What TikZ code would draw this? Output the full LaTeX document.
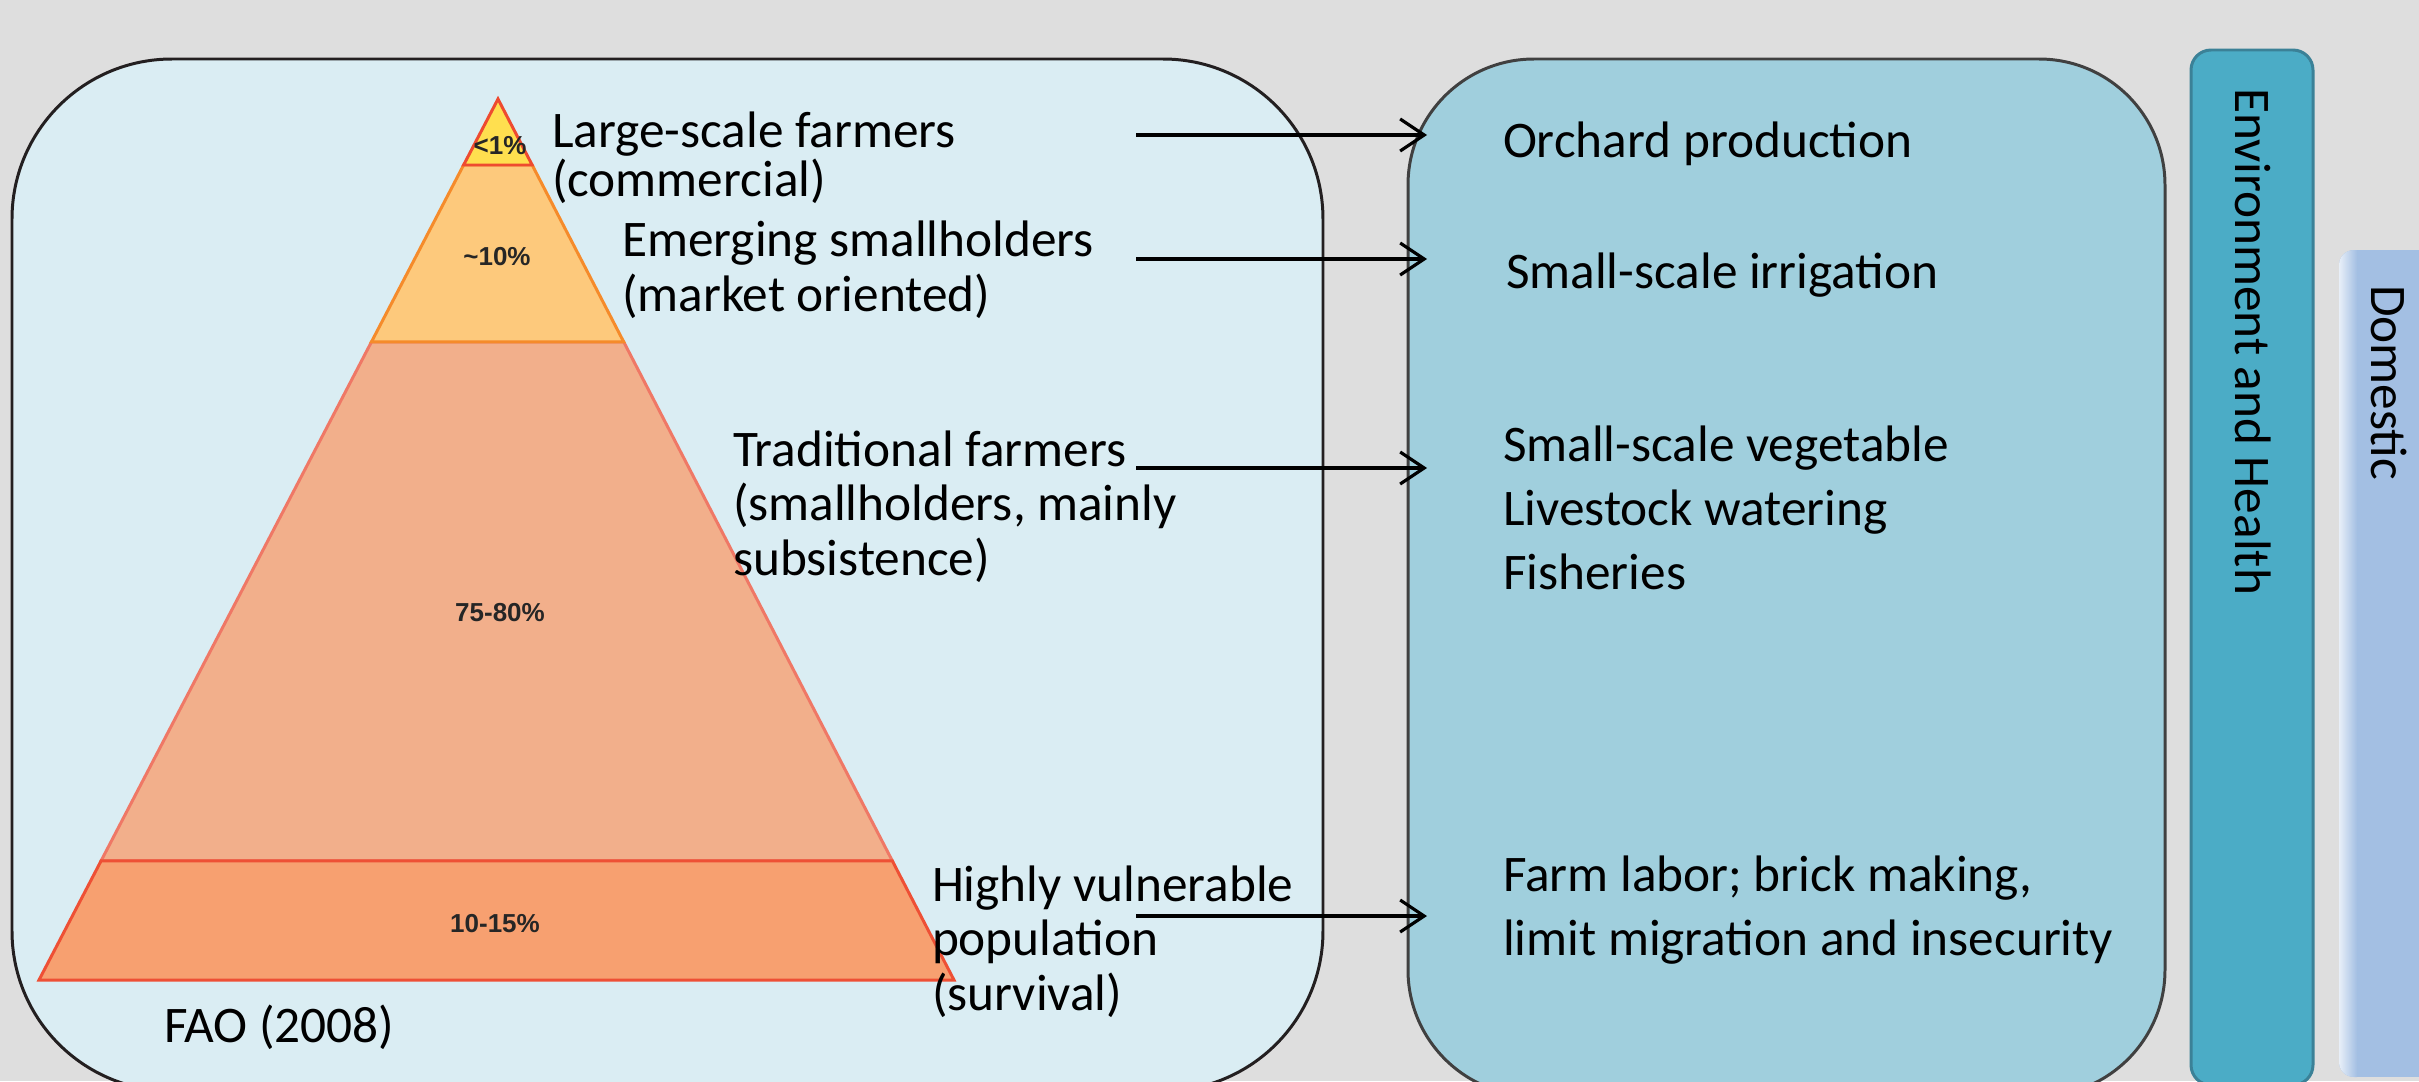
\documentclass[tikz,border=0pt]{standalone}
\usepackage{fontspec}
\setmainfont{Carlito}
\newfontfamily\pctfont{Liberation Sans}
\usetikzlibrary{arrows.meta,calc}

\definecolor{bggray}{HTML}{DEDEDE}
\definecolor{paleblue}{HTML}{DAEDF3}
\definecolor{midblue}{HTML}{A0CFDD}
\definecolor{leftedge}{HTML}{231F20}
\definecolor{rightedge}{HTML}{404040}
\definecolor{tealbar}{HTML}{4BACC6}
\definecolor{tealedge}{HTML}{3B8197}
\definecolor{skyblue}{HTML}{A3BFE3}
\definecolor{yellowfill}{HTML}{FFDF4F}
\definecolor{yellowedge}{HTML}{EE4B30}
\definecolor{amberfill}{HTML}{FDC97C}
\definecolor{amberedge}{HTML}{F58B2B}
\definecolor{salmonfill}{HTML}{F2AF8B}
\definecolor{salmonedge}{HTML}{EF7866}
\definecolor{coralfill}{HTML}{F7A070}
\definecolor{coraledge}{HTML}{EE5035}
\definecolor{pctgray}{HTML}{262626}

\begin{document}
\begin{tikzpicture}[x=0.1mm,y=-0.1mm,
  every node/.style={inner sep=0pt,outer sep=0pt},
  % multi-line labels sit on the baseline of their last line
  lbl/.style={anchor=base west,align=left,font=\fontsize{14.6}{15.5}\selectfont},
  rlbl/.style={anchor=base west,align=left,font=\fontsize{14.6}{18.1}\selectfont},
  vlbl/.style={anchor=base west,rotate=-90,font=\fontsize{14.6}{16}\selectfont},
  pct/.style={font=\pctfont\bfseries\fontsize{7.4}{8}\selectfont,text=pctgray},
  layer/.style={line width=0.85pt,line join=miter},
  link/.style={line width=0.9pt,-{Straight Barb[length=2.4mm,width=3.2mm]}}]
  \useasboundingbox (0,0) rectangle (2419,1081);
  \clip (0,0) rectangle (2419,1081);
  \fill[bggray] (0,0) rectangle (2419,1081);

  % the two big panels
  \node[draw=leftedge,fill=paleblue,line width=0.85pt,rounded corners=16mm,
    anchor=north west,minimum width=131.1mm,minimum height=103.2mm] (groups) at (12,59) {};
  \node[draw=rightedge,fill=midblue,line width=0.85pt,rounded corners=12.6mm,
    anchor=north west,minimum width=75.7mm,minimum height=103.7mm] (uses) at (1408,59) {};

  % side bars
  \node[draw=tealedge,fill=tealbar,line width=0.85pt,rounded corners=2mm,
    anchor=north west,minimum width=12.2mm,minimum height=103.5mm] (envbar) at (2191,50) {};
  \begin{scope}
    \clip[rounded corners=1.5mm] (2339,250) rectangle (2470,1077);
    \fill[skyblue] (2339,250) rectangle (2470,1077);
    \shade[left color=white!75!skyblue,right color=skyblue] (2339,250) rectangle (2357,1077);
  \end{scope}
  \node[vlbl] (envlabel) at (2235,88) {Environment and Health};
  \node[vlbl] (domlabel) at (2371,285) {Domestic};

  % pyramid, drawn middle-out so the right edges stay on top
  \coordinate (apex) at (498,99);
  \coordinate (bl) at (39,980);
  \coordinate (br) at (954,980);
  \filldraw[layer,fill=salmonfill,draw=salmonedge]
    ($(apex)!0.2758!(bl)$) -- ($(apex)!0.2758!(br)$) -- ($(apex)!0.8649!(br)$) -- ($(apex)!0.8649!(bl)$) -- cycle;
  \filldraw[layer,fill=coralfill,draw=coraledge]
    ($(apex)!0.8649!(bl)$) -- ($(apex)!0.8649!(br)$) -- (br) -- (bl) -- cycle;
  \filldraw[layer,fill=amberfill,draw=amberedge]
    ($(apex)!0.0749!(bl)$) -- ($(apex)!0.0749!(br)$) -- ($(apex)!0.2758!(br)$) -- ($(apex)!0.2758!(bl)$) -- cycle;
  \filldraw[layer,fill=yellowfill,draw=yellowedge]
    (apex) -- ($(apex)!0.0749!(br)$) -- ($(apex)!0.0749!(bl)$) -- cycle;

  \node[pct] (top) at (500,146) {<1\%};
  \node[pct] (emergingpct) at (497,257) {\textasciitilde10\%};
  \node[pct] (traditionalpct) at (500,613) {75-80\%};
  \node[pct] (vulnerablepct) at (495,924) {10-15\%};

  % farmer groups
  \node[lbl,font=\fontsize{14.6}{13.7}\selectfont] (large) at (552,196) {Large-scale farmers\\(commercial)};
  \node[lbl] (emerging) at (622,311) {Emerging smallholders\\(market oriented)};
  \node[lbl] (traditional) at (733,575) {Traditional farmers\\(smallholders, mainly\\subsistence)};
  \node[lbl] (vulnerable) at (932,1010) {Highly vulnerable\\population\\(survival)};
  \node[lbl] (fao) at (164,1042) {FAO (2008)};

  % water uses
  \node[rlbl] (orchard) at (1503,157) {Orchard production};
  \node[rlbl] (irrigation) at (1506,288) {Small-scale irrigation};
  \node[rlbl] (vegetable) at (1503,589) {Small-scale vegetable\\Livestock watering\\Fisheries};
  \node[rlbl] (labor) at (1503,955) {Farm labor; brick making,\\limit migration and insecurity};

  % links
  \coordinate (tail1) at (1136,135);
  \coordinate (tail2) at (1136,259);
  \coordinate (tail3) at (1136,468);
  \coordinate (tail4) at (1136,916);
  \draw[link,shorten >=-1.9mm] (tail1) -- (tail1 -| uses.west);
  \draw[link,shorten >=-1.9mm] (tail2) -- (tail2 -| uses.west);
  \draw[link,shorten >=-1.9mm] (tail3) -- (tail3 -| uses.west);
  \draw[link,shorten >=-1.9mm] (tail4) -- (tail4 -| uses.west);
\end{tikzpicture}
\end{document}
